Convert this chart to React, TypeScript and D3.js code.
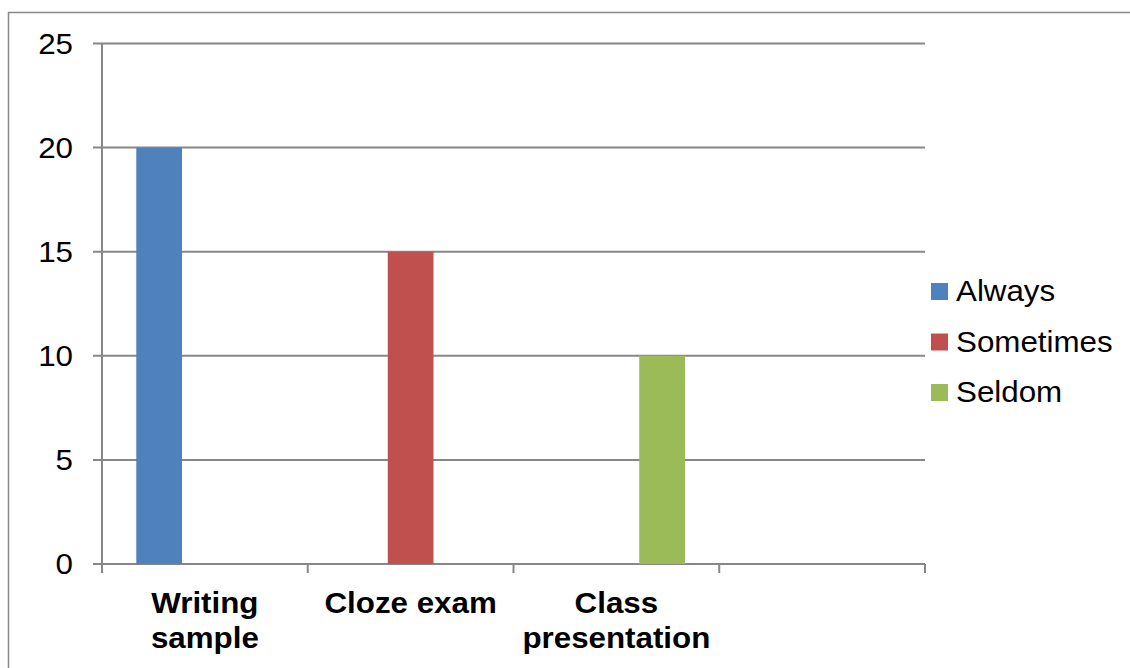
import * as React from 'react';
import * as d3 from 'd3';

const categories = ['Writing sample', 'Cloze exam', 'Class presentation', ''];
const seriesNames = ['Always', 'Sometimes', 'Seldom'];
const always = [20, 0, 0, 0];
const sometimes = [0, 15, 0, 0];
const seldom = [0, 0, 10, 0];
const yTicks = [0, 5, 10, 15, 20, 25];
const colors = ['#4F81BD', '#C0504D', '#9BBB59'];

const width = 1130;
const height = 668;
const font = '"Liberation Sans", Arial, sans-serif';
const fs = 29;
const stretch = 1.08;
const gray = '#878787';

// rough greedy wrap, Excel style
const wrap = (label: string, maxW: number) => {
  const ctx = document.createElement('canvas').getContext('2d') as CanvasRenderingContext2D;
  ctx.font = `bold ${fs}px "Liberation Sans"`;
  const words = label.split(' ');
  const lines: string[] = [];
  let cur = '';
  words.forEach(w => {
    const t = cur ? cur + ' ' + w : w;
    if (cur && ctx.measureText(t).width * stretch > maxW) {
      lines.push(cur);
      cur = w;
    } else cur = t;
  });
  if (cur) lines.push(cur);
  return lines;
};

const App = () => {
  const root = React.useRef() as React.MutableRefObject<any>;

  React.useEffect(() => {
    const svg = d3.select(root.current);
    svg.selectAll('*').remove();

    const values = [always, sometimes, seldom];

    const x = d3.scaleBand<number>()
      .domain(categories.map((_, i) => i))
      .range([102, 925])
      .paddingInner(0)
      .paddingOuter(0);

    const xs = d3.scaleBand<number>()
      .domain(seriesNames.map((_, i) => i))
      .range([0, x.bandwidth()])
      .paddingInner(0)
      .paddingOuter(0.75);

    const y = d3.scaleLinear().domain([0, 25]).range([564, 43.5]);

    // outer frame (cut off at right and bottom)
    svg.append('path')
      .attr('d', `M8.5,${height + 5} L8.5,12.5 L${width + 5},12.5`)
      .attr('fill', 'none')
      .attr('stroke', gray)
      .attr('stroke-width', 1.5);

    // gridlines + y ticks
    svg.append('g').selectAll('line')
      .data(yTicks)
      .enter()
      .append('line')
      .attr('x1', 93)
      .attr('x2', 925)
      .attr('y1', d => y(d))
      .attr('y2', d => y(d))
      .attr('stroke', gray)
      .attr('stroke-width', 2);

    svg.append('g').selectAll('text')
      .data(yTicks)
      .enter()
      .append('text')
      .attr('transform', d => `translate(73,${y(d) + fs * 0.355}) scale(${stretch},1)`)
      .attr('text-anchor', 'end')
      .attr('font-family', font)
      .attr('font-size', fs)
      .attr('fill', '#000')
      .text(d => d);

    // bars
    values.forEach((vals, s) => {
      svg.append('g').selectAll('rect')
        .data(vals.map((v, i) => ({ v, i })).filter(d => d.v > 0))
        .enter()
        .append('rect')
        .attr('x', d => (x(d.i) as number) + (xs(s) as number))
        .attr('width', xs.bandwidth())
        .attr('y', d => y(d.v))
        .attr('height', d => y(0) - y(d.v))
        .attr('fill', colors[s]);
    });

    // y axis line
    svg.append('line')
      .attr('x1', 102).attr('x2', 102)
      .attr('y1', y(25)).attr('y2', y(0))
      .attr('stroke', gray).attr('stroke-width', 2);

    // category ticks
    const bounds = categories.map((_, i) => x(i) as number).concat([x.range()[1]]);
    svg.append('g').selectAll('line')
      .data(bounds)
      .enter()
      .append('line')
      .attr('x1', d => d).attr('x2', d => d)
      .attr('y1', y(0)).attr('y2', y(0) + 9)
      .attr('stroke', gray).attr('stroke-width', 2);

    // category labels
    categories.forEach((c, i) => {
      const cx = (x(i) as number) + x.bandwidth() / 2;
      wrap(c, x.bandwidth()).forEach((line, j) => {
        svg.append('text')
          .attr('transform', `translate(${cx},${613 + j * 35}) scale(${stretch},1)`)
          .attr('text-anchor', 'middle')
          .attr('font-family', font)
          .attr('font-weight', 'bold')
          .attr('font-size', fs)
          .attr('fill', '#000')
          .text(line);
      });
    });

    // legend
    const legend = svg.append('g');
    seriesNames.forEach((name, i) => {
      const by = 301 + i * 50.5;
      legend.append('rect')
        .attr('x', 931).attr('y', by - 18)
        .attr('width', 17).attr('height', 17)
        .attr('fill', colors[i]);
      legend.append('text')
        .attr('transform', `translate(956,${by}) scale(${stretch},1)`)
        .attr('font-family', font)
        .attr('font-size', fs)
        .attr('fill', '#000')
        .text(name);
    });
  }, []);

  return (
    <svg
      ref={root}
      width={width}
      height={height}
      style={{ position: 'absolute', left: 0, top: 0, background: '#fff' }}
    />
  );
};

export default App;
